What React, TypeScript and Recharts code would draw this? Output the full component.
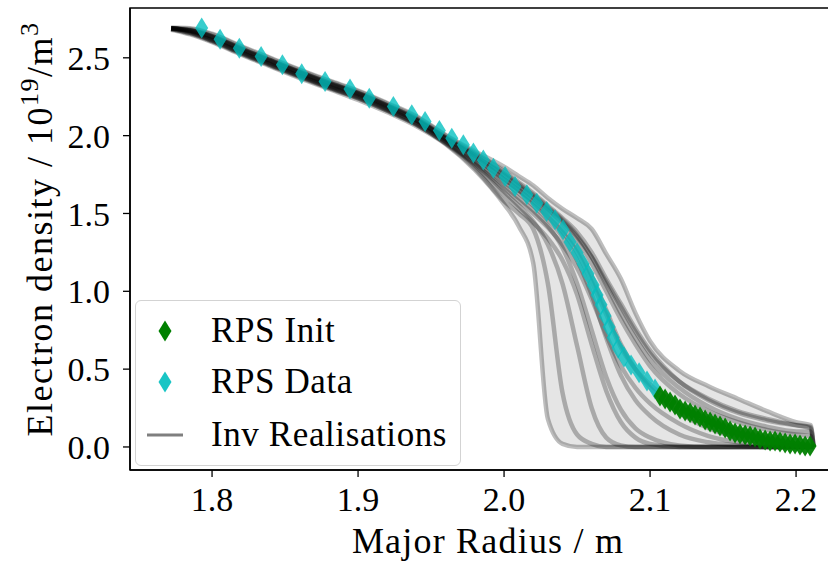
import React from 'react';
import { ComposedChart, Line, Area, Scatter, XAxis, YAxis, Legend, ReferenceArea } from 'recharts';

const FONT = '"Liberation Serif", "DejaVu Serif", serif';
const CYAN = '#00bfbf';
const GREEN = '#008000';

// shared major-radius grid for the inversion realisations
const X_GRID = [
  1.772, 1.785, 1.8, 1.82, 1.84, 1.86, 1.88, 1.9, 1.92, 1.94, 1.96, 1.98,
  2.0, 2.01, 2.02, 2.03, 2.04, 2.05, 2.06, 2.07, 2.08, 2.09, 2.1,
  2.12, 2.14, 2.16, 2.18, 2.2, 2.21, 2.212,
];

// each row: electron density (1e19 m^-3) of one realisation on X_GRID
const REALISATIONS = [
  [2.69, 2.675, 2.635, 2.555, 2.48, 2.405, 2.335, 2.27, 2.19, 2.1, 1.985, 1.86, 1.72, 1.65, 1.57, 1.48, 1.38, 1.25, 1.06, 0.85, 0.64, 0.5, 0.4, 0.27, 0.18, 0.11, 0.06, 0.02, 0.01, 0],
  [2.685, 2.655, 2.605, 2.525, 2.45, 2.375, 2.305, 2.24, 2.16, 2.07, 1.955, 1.82, 1.66, 1.58, 1.5, 1.41, 1.3, 1.15, 0.95, 0.72, 0.52, 0.38, 0.28, 0.15, 0.07, 0.03, 0.01, 0, 0, 0],
  [2.69, 2.685, 2.65, 2.57, 2.495, 2.42, 2.35, 2.285, 2.205, 2.12, 2.0, 1.89, 1.77, 1.7, 1.63, 1.55, 1.47, 1.38, 1.25, 1.08, 0.92, 0.76, 0.62, 0.42, 0.3, 0.22, 0.17, 0.14, 0.13, 0],
  [2.69, 2.67, 2.625, 2.545, 2.47, 2.395, 2.325, 2.26, 2.18, 2.095, 1.98, 1.87, 1.74, 1.67, 1.6, 1.52, 1.44, 1.33, 1.18, 1.0, 0.82, 0.66, 0.52, 0.34, 0.23, 0.16, 0.11, 0.08, 0.07, 0],
  [2.68, 2.65, 2.6, 2.52, 2.445, 2.37, 2.3, 2.23, 2.15, 2.06, 1.945, 1.78, 1.56, 1.42, 1.18, 0.18, 0.02, 0, 0, 0, 0, 0, 0, 0, 0, 0, 0, 0, 0, 0],
  [2.69, 2.665, 2.615, 2.535, 2.46, 2.385, 2.315, 2.25, 2.17, 2.08, 1.96, 1.82, 1.64, 1.55, 1.45, 1.3, 1.05, 0.65, 0.25, 0.06, 0.01, 0, 0, 0, 0, 0, 0, 0, 0, 0],
  [2.69, 2.67, 2.62, 2.54, 2.465, 2.39, 2.32, 2.255, 2.175, 2.085, 1.965, 1.83, 1.68, 1.6, 1.52, 1.42, 1.28, 1.05, 0.75, 0.45, 0.24, 0.12, 0.06, 0.01, 0, 0, 0, 0, 0, 0],
  [2.69, 2.675, 2.63, 2.55, 2.475, 2.4, 2.33, 2.265, 2.185, 2.095, 1.975, 1.84, 1.7, 1.63, 1.55, 1.46, 1.35, 1.2, 0.98, 0.7, 0.46, 0.3, 0.2, 0.08, 0.03, 0.01, 0, 0, 0, 0],
  [2.69, 2.68, 2.64, 2.56, 2.485, 2.41, 2.34, 2.275, 2.195, 2.11, 1.99, 1.88, 1.76, 1.69, 1.62, 1.54, 1.46, 1.36, 1.22, 1.04, 0.86, 0.7, 0.56, 0.38, 0.26, 0.18, 0.13, 0.1, 0.1, 0],
  [2.685, 2.66, 2.61, 2.53, 2.455, 2.38, 2.31, 2.245, 2.165, 2.075, 1.95, 1.79, 1.58, 1.5, 1.4, 1.05, 0.35, 0.08, 0.02, 0, 0, 0, 0, 0, 0, 0, 0, 0, 0, 0],
  [2.69, 2.675, 2.635, 2.555, 2.48, 2.405, 2.335, 2.27, 2.19, 2.1, 1.98, 1.855, 1.72, 1.65, 1.58, 1.5, 1.4, 1.28, 1.1, 0.88, 0.66, 0.5, 0.38, 0.22, 0.12, 0.06, 0.03, 0.01, 0, 0],
  [2.695, 2.69, 2.655, 2.575, 2.5, 2.425, 2.355, 2.29, 2.21, 2.125, 2.005, 1.9, 1.8, 1.74, 1.68, 1.6, 1.53, 1.47, 1.4, 1.24, 1.08, 0.86, 0.68, 0.49, 0.39, 0.31, 0.23, 0.16, 0.14, 0],
  [2.69, 2.675, 2.64, 2.56, 2.485, 2.41, 2.34, 2.275, 2.195, 2.105, 1.985, 1.87, 1.75, 1.68, 1.61, 1.53, 1.45, 1.35, 1.22, 1.06, 0.9, 0.74, 0.6, 0.42, 0.31, 0.23, 0.18, 0.14, 0.12, 0],
  [2.685, 2.66, 2.61, 2.53, 2.455, 2.38, 2.31, 2.24, 2.16, 2.07, 1.95, 1.81, 1.62, 1.53, 1.44, 1.34, 1.2, 0.98, 0.66, 0.36, 0.16, 0.06, 0.02, 0, 0, 0, 0, 0, 0, 0],
];

const RPS_DATA_R = [
  1.7929, 1.8055, 1.8187, 1.8336, 1.8482, 1.8614, 1.8774, 1.8945, 1.9077, 1.9242,
  1.9368, 1.9459, 1.9557, 1.9642, 1.9721, 1.979, 1.9858, 1.9927, 2.0007, 2.0075,
  2.0156, 2.0224, 2.0292, 2.0349, 2.0404, 2.0452, 2.05, 2.0541, 2.0575, 2.061,
  2.0637, 2.0664, 2.0692, 2.0719, 2.0747, 2.0781, 2.0822, 2.087, 2.0925, 2.0979, 2.1034,
];
const RPS_DATA_NE = [
  2.691, 2.62, 2.562, 2.508, 2.455, 2.397, 2.348, 2.299, 2.241, 2.187,
  2.134, 2.091, 2.033, 1.984, 1.941, 1.888, 1.844, 1.791, 1.737, 1.673,
  1.62, 1.566, 1.512, 1.459, 1.395, 1.317, 1.247, 1.176, 1.112, 1.041,
  0.977, 0.913, 0.842, 0.771, 0.701, 0.636, 0.578, 0.527, 0.476, 0.424, 0.373,
];

const RPS_INIT_R = [
  2.1068, 2.1103, 2.1137, 2.1171, 2.1205, 2.124, 2.1274, 2.1308, 2.1342, 2.1377,
  2.1411, 2.1445, 2.1479, 2.1514, 2.1548, 2.1582, 2.1616, 2.1651, 2.1685, 2.1719,
  2.1753, 2.1788, 2.1822, 2.1856, 2.189, 2.1925, 2.1959, 2.1993, 2.2027, 2.2062, 2.2096,
];
const RPS_INIT_NE = [
  0.328, 0.308, 0.289, 0.27, 0.244, 0.231, 0.219, 0.206, 0.193, 0.174,
  0.161, 0.148, 0.135, 0.122, 0.103, 0.09, 0.084, 0.077, 0.071, 0.064,
  0.051, 0.045, 0.039, 0.039, 0.032, 0.026, 0.019, 0.019, 0.013, 0.006, 0.006,
];

const X_TICKS = [1.8, 1.9, 2.0, 2.1, 2.2];
const Y_TICKS = [0, 0.5, 1.0, 1.5, 2.0, 2.5];
const X_DOMAIN: [number, number] = [1.7438, 2.2342];
const Y_DOMAIN: [number, number] = [-0.148, 2.82];

const realisationData = REALISATIONS.map((row) => row.map((y, i) => ({ x: X_GRID[i], y })));
// spread of the ensemble (lowest / highest realisation at each grid point)
const envelopeData = X_GRID.map((x, i) => {
  const col = REALISATIONS.map((r) => r[i]);
  return { x, range: [Math.min(...col), Math.max(...col)] };
});
const rpsData = RPS_DATA_R.map((x, i) => ({ x, y: RPS_DATA_NE[i] }));
const rpsInit = RPS_INIT_R.map((x, i) => ({ x, y: RPS_INIT_NE[i] }));

const diamondPoints = (cx: number, cy: number) =>
  `${cx},${cy - 10.5} ${cx + 6.5},${cy} ${cx},${cy + 10.5} ${cx - 6.5},${cy}`;

const makeDiamond = (color: string, opacity: number) => (props: any) => {
  const { cx, cy } = props;
  if (cx == null || cy == null) return <g />;
  return <polygon points={diamondPoints(cx, cy)} fill={color} fillOpacity={opacity} />;
};

const YLabel = (props: any) => {
  const vb = props.viewBox || { x: 0, y: 8, width: 130, height: 462 };
  const cx = vb.x + 52;
  const cy = vb.y + vb.height / 2 - 10;
  return (
    <text
      transform={`translate(${cx},${cy}) rotate(-90)`}
      textAnchor="middle"
      fontFamily={FONT}
      fontSize={36}
      letterSpacing={1.5}
      fill="#000"
    >
      Electron density / 10
      <tspan dy={-14} fontSize={26}>19</tspan>
      <tspan dy={14}>/m</tspan>
      <tspan dy={-14} fontSize={26}>3</tspan>
    </text>
  );
};

const LegendBox = () => {
  const row = (top: number, marker: React.ReactNode, text: string) => (
    <div style={{ position: 'absolute', left: 0, top: top - 25, height: 50, width: '100%' }}>
      <svg width={60} height={50} style={{ position: 'absolute', left: 0, top: 0 }}>{marker}</svg>
      <span style={{ position: 'absolute', left: 75, top: 0, lineHeight: '50px', whiteSpace: 'nowrap', letterSpacing: 0.6 }}>{text}</span>
    </div>
  );
  return (
    <div
      style={{
        position: 'relative', width: 326, height: 166, boxSizing: 'border-box',
        border: '1.5px solid #d3d3d3', borderRadius: 6, background: 'rgba(255,255,255,0.8)',
        fontFamily: FONT, fontSize: 35, color: '#000',
      }}
    >
      {row(30, <polygon points={diamondPoints(29, 25)} fill={GREEN} />, 'RPS Init')}
      {row(81, <polygon points={diamondPoints(29, 25)} fill={CYAN} fillOpacity={0.9} />, 'RPS Data')}
      {row(134, <line x1={11} x2={47} y1={25} y2={25} stroke="#000" strokeOpacity={0.5} strokeWidth={3} />, 'Inv Realisations')}
    </div>
  );
};

export default function App() {
  const tickStyle = { fill: '#000', fontSize: 34, fontFamily: FONT };
  return (
    <div style={{ position: 'absolute', left: 0, top: 0, width: 828, height: 561, overflow: 'hidden', background: '#fff' }}>
      <ComposedChart width={850} height={561} margin={{ top: 8, right: 4, bottom: 0, left: 0 }}>
        <XAxis
          type="number"
          dataKey="x"
          domain={X_DOMAIN}
          allowDataOverflow
          ticks={X_TICKS}
          tickFormatter={(v: number) => v.toFixed(1)}
          height={91}
          tick={tickStyle}
          tickSize={7}
          tickMargin={10}
          tickLine={{ stroke: '#000', strokeWidth: 1.3 }}
          axisLine={{ stroke: '#000', strokeWidth: 1.5 }}
          label={{
            value: 'Major Radius / m', position: 'insideBottom', offset: 8,
            fill: '#000', fontSize: 36, fontFamily: FONT, letterSpacing: 1.2,
          }}
        />
        <YAxis
          type="number"
          dataKey="y"
          domain={Y_DOMAIN}
          allowDataOverflow
          ticks={Y_TICKS}
          tickFormatter={(v: number) => v.toFixed(1)}
          width={130}
          tick={tickStyle}
          tickSize={7}
          tickMargin={13}
          tickLine={{ stroke: '#000', strokeWidth: 1.3 }}
          axisLine={{ stroke: '#000', strokeWidth: 1.5 }}
          label={(p: any) => <YLabel {...p} />}
        />
        <ReferenceArea x1={X_DOMAIN[0]} x2={X_DOMAIN[1]} y1={Y_DOMAIN[0]} y2={Y_DOMAIN[1]} fill="none" stroke="#000" strokeWidth={1.5} fillOpacity={0} />
        <Area
          data={envelopeData}
          dataKey="range"
          type="monotone"
          stroke="none"
          fill="#000"
          fillOpacity={0.1}
          legendType="none"
          isAnimationActive={false}
        />
        {realisationData.map((d, i) => (
          <Line
            key={i}
            data={d}
            dataKey="y"
            type="monotone"
            stroke="#000"
            strokeOpacity={0.26}
            strokeWidth={4.5}
            dot={false}
            activeDot={false}
            legendType="none"
            isAnimationActive={false}
          />
        ))}
        <Scatter data={rpsData} dataKey="y" name="RPS Data" shape={makeDiamond(CYAN, 0.78)} isAnimationActive={false} />
        <Scatter data={rpsInit} dataKey="y" name="RPS Init" shape={makeDiamond(GREEN, 0.95)} isAnimationActive={false} />
        <Legend
          layout="horizontal"
          verticalAlign="middle"
          align="center"
          content={() => <LegendBox />}
          wrapperStyle={{ position: 'absolute', left: 135, top: 300, width: 326, height: 166 }}
        />
      </ComposedChart>
    </div>
  );
}
